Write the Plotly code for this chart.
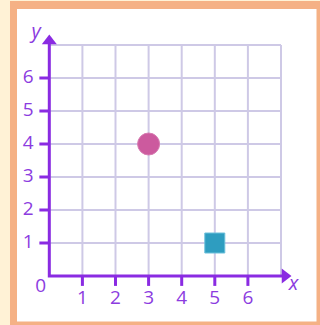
import plotly.graph_objects as go

# grid / tick values
ticks = [1, 2, 3, 4, 5, 6]
grid = [0, 1, 2, 3, 4, 5, 6, 7]

# plotted points
circle_x = [3]
circle_y = [4]
square_x = [5]
square_y = [1]

purple = "#8A2BE2"
label_purple = "#8C3CDF"
grid_col = "#CEC9E6"
font = "Open Sans"

# pixel scale: x=0 at px 49.3, 33.1 px per unit; y=0 at px 276, 33 px per unit
W, H = 320, 325
xr = [-49.3 / 33.1, (W - 49.3) / 33.1]
yr = [-(H - 276) / 33.0, 276 / 33.0]

fig = go.Figure()

# grid lines
gx, gy = [], []
for g in grid:
    gx += [g, g, None]
    gy += [0, 7, None]
    gx += [0, 7, None]
    gy += [g, g, None]
fig.add_trace(go.Scatter(x=gx, y=gy, mode="lines", line=dict(color=grid_col, width=2),
                         hoverinfo="skip", showlegend=False))

# tick marks
tx, ty = [], []
for t in ticks:
    tx += [t, t, None]
    ty += [0, -0.3, None]
    tx += [0, -0.3, None]
    ty += [t, t, None]
fig.add_trace(go.Scatter(x=tx, y=ty, mode="lines", line=dict(color=purple, width=3),
                         hoverinfo="skip", showlegend=False))

# axes
fig.add_trace(go.Scatter(x=[7.1, 0, 0], y=[0, 0, 7.1], mode="lines",
                         line=dict(color=purple, width=3), hoverinfo="skip", showlegend=False))
fig.add_trace(go.Scatter(x=[7.12], y=[0], mode="markers",
                         marker=dict(symbol="triangle-right", size=13, color=purple),
                         hoverinfo="skip", showlegend=False))
fig.add_trace(go.Scatter(x=[0], y=[7.12], mode="markers",
                         marker=dict(symbol="triangle-up", size=13, color=purple),
                         hoverinfo="skip", showlegend=False))

# tick labels
fig.add_trace(go.Scatter(x=ticks, y=[-0.7] * len(ticks), mode="text",
                         text=[str(t) for t in ticks],
                         textfont=dict(family=font, size=19, color=label_purple),
                         hoverinfo="skip", showlegend=False))
fig.add_trace(go.Scatter(x=[-0.64] * len(ticks), y=ticks, mode="text",
                         text=[str(t) for t in ticks],
                         textfont=dict(family=font, size=19, color=label_purple),
                         hoverinfo="skip", showlegend=False))
fig.add_trace(go.Scatter(x=[-0.26], y=[-0.33], mode="text", text=["0"],
                         textfont=dict(family=font, size=19, color=label_purple),
                         hoverinfo="skip", showlegend=False))
fig.add_trace(go.Scatter(x=[7.38, -0.4], y=[-0.27, 7.36], mode="text",
                         text=["<i>x</i>", "<i>y</i>"],
                         textfont=dict(family=font, size=20, color=label_purple),
                         hoverinfo="skip", showlegend=False))

# points
fig.add_trace(go.Scatter(x=circle_x, y=circle_y, mode="markers",
                         marker=dict(symbol="circle", size=22, color="#CC5A9E",
                                     line=dict(color="#D77BB1", width=1)),
                         showlegend=False))
fig.add_trace(go.Scatter(x=square_x, y=square_y, mode="markers",
                         marker=dict(symbol="square", size=20, color="#2E9DC0",
                                     line=dict(color="#6CC0DB", width=1)),
                         showlegend=False))

# frame
fig.add_shape(type="rect", xref="paper", yref="paper", x0=0, x1=1, y0=0, y1=1,
              fillcolor="#FFF2D6", line_width=0, layer="below")
fig.add_shape(type="rect", xref="paper", yref="paper", x0=10 / W, x1=1, y0=0, y1=1 - 1 / H,
              fillcolor="#F5B185", line_width=0, layer="below")
fig.add_shape(type="rect", xref="paper", yref="paper", x0=17 / W, x1=316.5 / W,
              y0=1 - 321.5 / H, y1=1 - 9 / H,
              fillcolor="white", line_width=0, layer="below")

fig.update_layout(
    width=W, height=H,
    margin=dict(l=0, r=0, t=0, b=0),
    paper_bgcolor="white", plot_bgcolor="rgba(0,0,0,0)",
    xaxis=dict(range=xr, visible=False, fixedrange=True),
    yaxis=dict(range=yr, visible=False, fixedrange=True),
)

fig.write_html("out.html", config={"displayModeBar": False},
               post_script="document.body.style.margin='0';document.body.style.overflow='hidden';")
